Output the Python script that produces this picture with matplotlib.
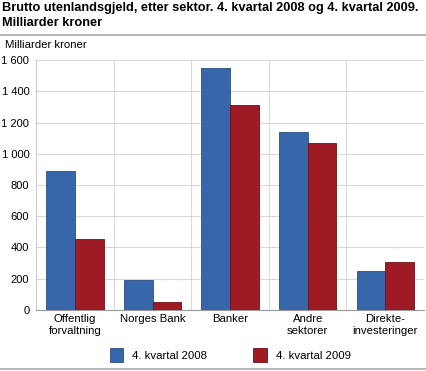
import numpy as np
import matplotlib.pyplot as plt

plt.rcParams['font.family'] = ['Liberation Sans', 'DejaVu Sans']

categories = ['Offentlig\nforvaltning', 'Norges Bank', 'Banker', 'Andre\nsektorer', 'Direkte-\ninvesteringer']
q4_2008 = [890, 192, 1549, 1139, 250]
q4_2009 = [454, 51, 1312, 1069, 307]
series_names = ['4. kvartal 2008', '4. kvartal 2009']
yticks = [0, 200, 400, 600, 800, 1000, 1200, 1400, 1600]
ytick_labels = ['0', '200', '400', '600', '800', '1 000', '1 200', '1 400', '1 600']

blue = '#3766aa'
red = '#9e1a24'

fig = plt.figure(figsize=(4.27, 3.71), dpi=100)
ax = fig.add_axes([0.085, 0.165, 0.908, 0.673])

x = np.arange(len(categories))
w = 0.37
ax.bar(x - w/2, q4_2008, w, color=blue, edgecolor='#2a4f85', linewidth=0.6, label=series_names[0], zorder=3)
ax.bar(x + w/2, q4_2009, w, color=red, edgecolor='#6e1018', linewidth=0.6, label=series_names[1], zorder=3)

ax.set_xlim(-0.5, len(categories) - 0.5)
ax.set_ylim(0, 1600)
ax.set_yticks(yticks)
ax.set_yticklabels(ytick_labels, fontsize=8)
ax.set_xticks(x)
ax.set_xticklabels(categories, fontsize=8.2, linespacing=1.3)
ax.tick_params(axis='both', length=0, pad=3)
ax.tick_params(axis='y', pad=5)

ax.grid(axis='y', color='#d9d9d9', linewidth=0.8, zorder=0)
for xs in x[:-1] + 0.5:
    ax.axvline(xs, color='#d9d9d9', linewidth=0.8, zorder=0)
for s in ['top', 'right']:
    ax.spines[s].set_visible(False)
ax.spines['left'].set_color('#cccccc')
ax.spines['bottom'].set_color('#999999')

fig.text(0.005, 0.995, 'Brutto utenlandsgjeld, etter sektor. 4. kvartal 2008 og 4. kvartal 2009.\nMilliarder kroner',
         fontsize=9.2, fontweight='bold', va='top', ha='left', linespacing=1.35)
fig.add_artist(plt.Line2D([0, 1], [0.907, 0.907], color='#aaaaaa', linewidth=1.2))
fig.add_artist(plt.Line2D([0, 1], [0.006, 0.006], color='#aaaaaa', linewidth=1.2))
fig.text(0.012, 0.878, 'Milliarder kroner', fontsize=8.2, va='center', ha='left')

ax.legend(loc='lower center', bbox_to_anchor=(0.5, -0.25), ncol=2, frameon=False,
          fontsize=8.2, handlelength=1.2, handleheight=1.5, columnspacing=4, handletextpad=0.8)

fig.savefig('out.png', dpi=100)
